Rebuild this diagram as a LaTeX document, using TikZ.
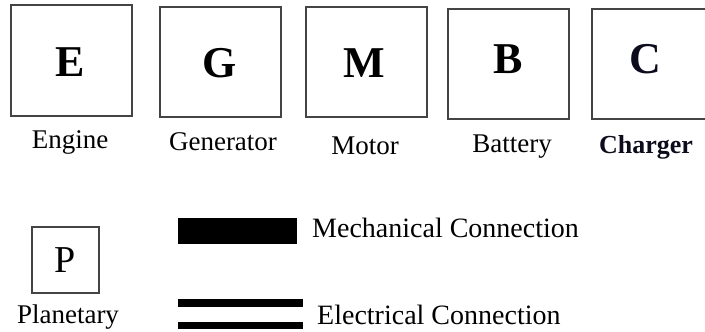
\documentclass[tikz,border=0pt]{standalone}
\usepackage{fontspec}
\setmainfont{Liberation Serif}
\definecolor{boxgray}{HTML}{444444}
\definecolor{navyblack}{HTML}{0C0C1C}
\begin{document}
\begin{tikzpicture}[x=1pt,y=-1pt,
  blk/.style={draw=boxgray,line width=2pt,fill=none},
  pblk/.style={draw=boxgray,line width=1.6pt,fill=none},
  biglet/.style={anchor=base,inner sep=0pt,font=\fontsize{44}{44}\selectfont\bfseries},
  lbl/.style={anchor=base,inner sep=0pt,font=\fontsize{27}{27}\selectfont},
  leg/.style={anchor=base west,inner sep=0pt,font=\fontsize{28}{28}\selectfont},
  bar/.style={fill=black,draw=none,inner sep=0pt,minimum width=#1}
]
\useasboundingbox (0,0) rectangle (705,332);
\clip (0,0) rectangle (705,332);
% boxes
\draw[blk] (11,5) rectangle (132,116);
\draw[blk] (160,7) rectangle (281,117);
\draw[blk] (306,7) rectangle (427,117);
\draw[blk] (448,9) rectangle (569,119);
\draw[blk] (592,9) rectangle (713,119);
\draw[pblk] (32,227) rectangle (99,293);
% letters
\node[biglet] (E) at (70,76) {E};
\node[biglet] (G) at (220,77) {G};
\node[biglet] (M) at (364,77) {M};
\node[biglet] (B) at (508,73) {B};
\node[biglet,text=navyblack] (C) at (645,73) {C};
\node[anchor=base,inner sep=0pt,font=\fontsize{38}{38}\selectfont] (P) at (65,272) {P};
% labels
\node[lbl] (lE) at (70,148) {Engine};
\node[lbl] (lG) at (223,150) {Generator};
\node[lbl] (lM) at (365,154) {Motor};
\node[lbl] (lB) at (512,152) {Battery};
\node[anchor=base,inner sep=0pt,font=\fontsize{26}{26}\selectfont\bfseries,text=navyblack] (lC) at (646,153) {Charger};
\node[lbl] (lP) at (68,323) {Planetary};
% legend
\node[bar=119pt,minimum height=26pt] (mech) at (237.5,231) {};
\node[bar=125pt,minimum height=8pt] (el1) at (240.5,303) {};
\node[bar=125pt,minimum height=7pt] (el2) at (240.5,325.5) {};
\node[leg] (lmech) at (312,237) {Mechanical Connection};
\node[leg] (lel) at (317,324) {Electrical Connection};
\end{tikzpicture}
\end{document}
